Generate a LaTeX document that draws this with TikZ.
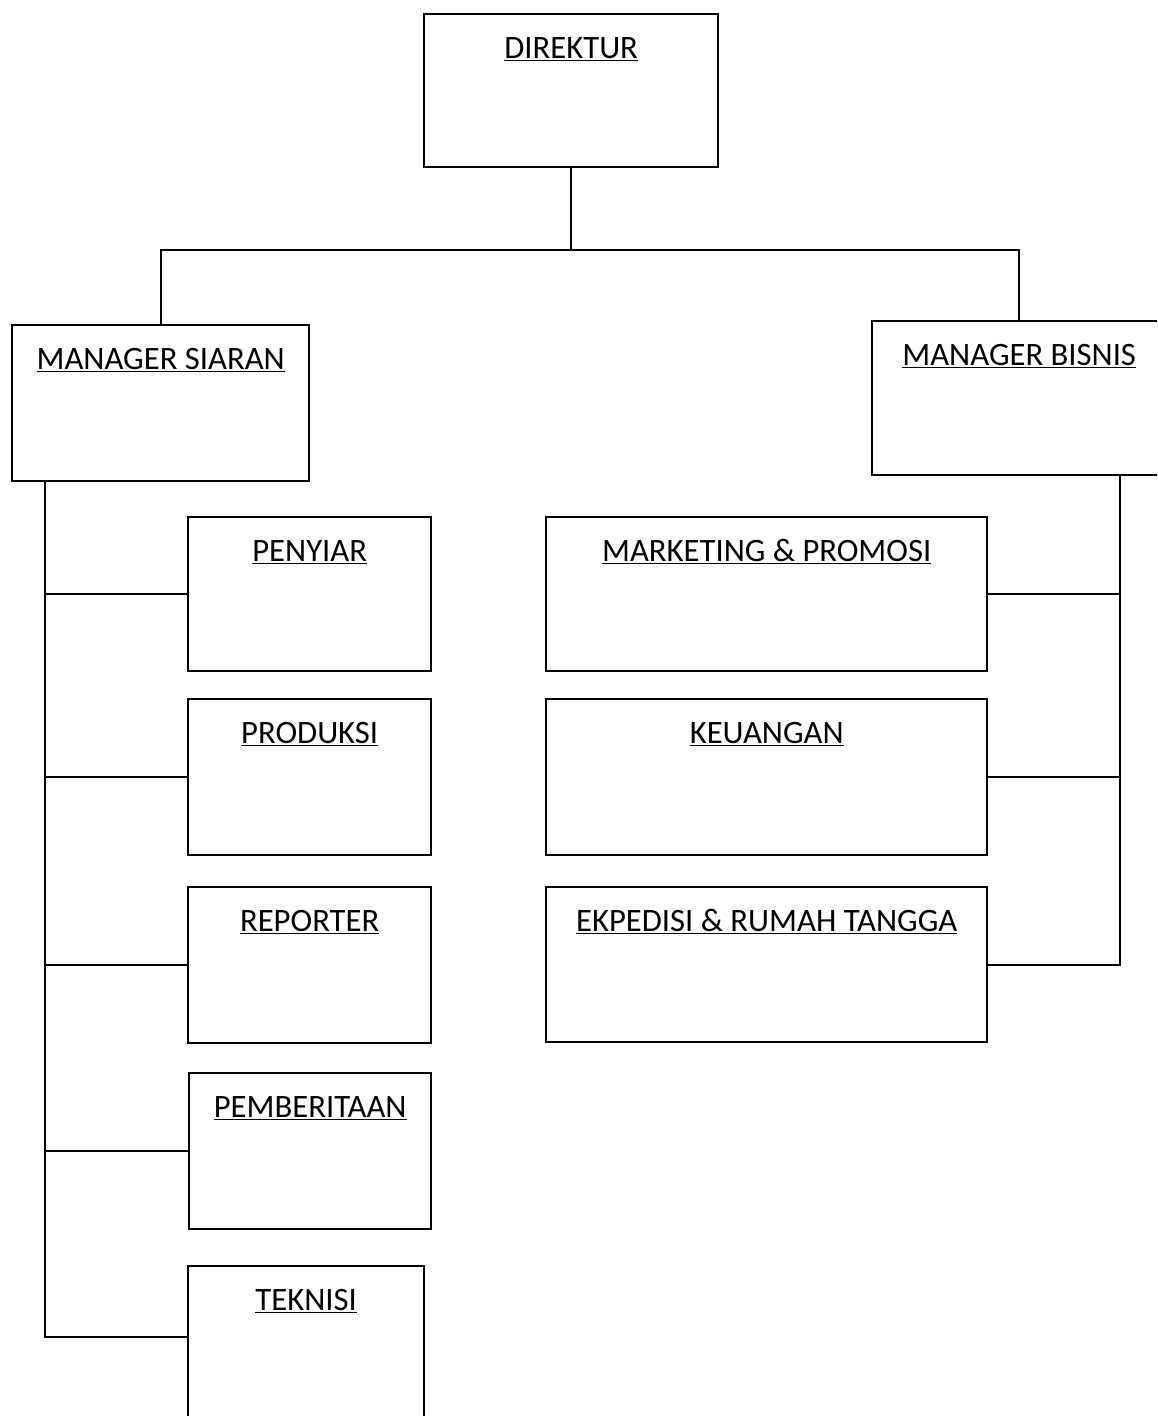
\documentclass[tikz,border=0pt]{standalone}
\usepackage{fontspec}
\setmainfont{Carlito}
\usepackage{tikz}
\usetikzlibrary{calc}

\begin{document}
\begin{tikzpicture}[x=0.6pt,y=-0.6pt]
    \def\px{0.6pt}
    \tikzset{
      unit/.style={draw, line width=1.4pt, anchor=north west, inner xsep=0pt, inner ysep=0pt,
        font=\fontsize{19.6}{23}\selectfont, text height=44*\px},
      link/.style={line width=1.3pt}
    }
    \path[use as bounding box, clip] (0,0) rectangle (1157,1416);
    % Direktur
    \node[unit, minimum width=294*\px, text depth=109*\px] (dir) at (423,13) {\underline{DIREKTUR}};
    % Managers
    \node[unit, minimum width=297*\px, text depth=112*\px] (ms) at (11,324) {\underline{MANAGER SIARAN}};
    \node[unit, minimum width=294*\px, text depth=110*\px] (mb) at (871,320) {\underline{MANAGER BISNIS}};
    % Siaran units
    \node[unit, minimum width=243*\px, text depth=110*\px] (penyiar) at (187,516) {\underline{PENYIAR}};
    \node[unit, minimum width=243*\px, text depth=112*\px] (produksi) at (187,698) {\underline{PRODUKSI}};
    \node[unit, minimum width=243*\px, text depth=112*\px] (reporter) at (187,886) {\underline{REPORTER}};
    \node[unit, minimum width=242*\px, text depth=112*\px] (pemberitaan) at (188,1072) {\underline{PEMBERITAAN}};
    \node[unit, minimum width=236*\px, text depth=160*\px] (teknisi) at (187,1265) {\underline{TEKNISI}};
    % Bisnis units
    \node[unit, minimum width=441*\px, text depth=110*\px] (marketing) at (545,516) {\underline{MARKETING \& PROMOSI}};
    \node[unit, minimum width=441*\px, text depth=112*\px] (keuangan) at (545,698) {\underline{KEUANGAN}};
    \node[unit, minimum width=441*\px, text depth=111*\px] (ekpedisi) at (545,886) {\underline{EKPEDISI \& RUMAH TANGGA}};
    % Top level lines
    \coordinate (bus) at ($(dir.south)+(0,82)$);
    \draw[link] (dir.south) -- (bus);
    \draw[link] (bus) -| (ms.north);
    \draw[link] (bus) -| (mb.north);
    % Left trunk
    \coordinate (lt) at ($(ms.south west)+(34,0)$);
    \draw[link] (lt) |- ($(teknisi.north west)+(0,72)$);
    \foreach \n in {penyiar,produksi,reporter,pemberitaan}
      \draw[link] (lt |- \n.west) -- (\n.west);
    % Right trunk
    \coordinate (rt) at ($(mb.south west)+(249,0)$);
    \draw[link] (rt) |- (ekpedisi.east);
    \foreach \n in {marketing,keuangan}
      \draw[link] (rt |- \n.east) -- (\n.east);
\end{tikzpicture}
\end{document}
